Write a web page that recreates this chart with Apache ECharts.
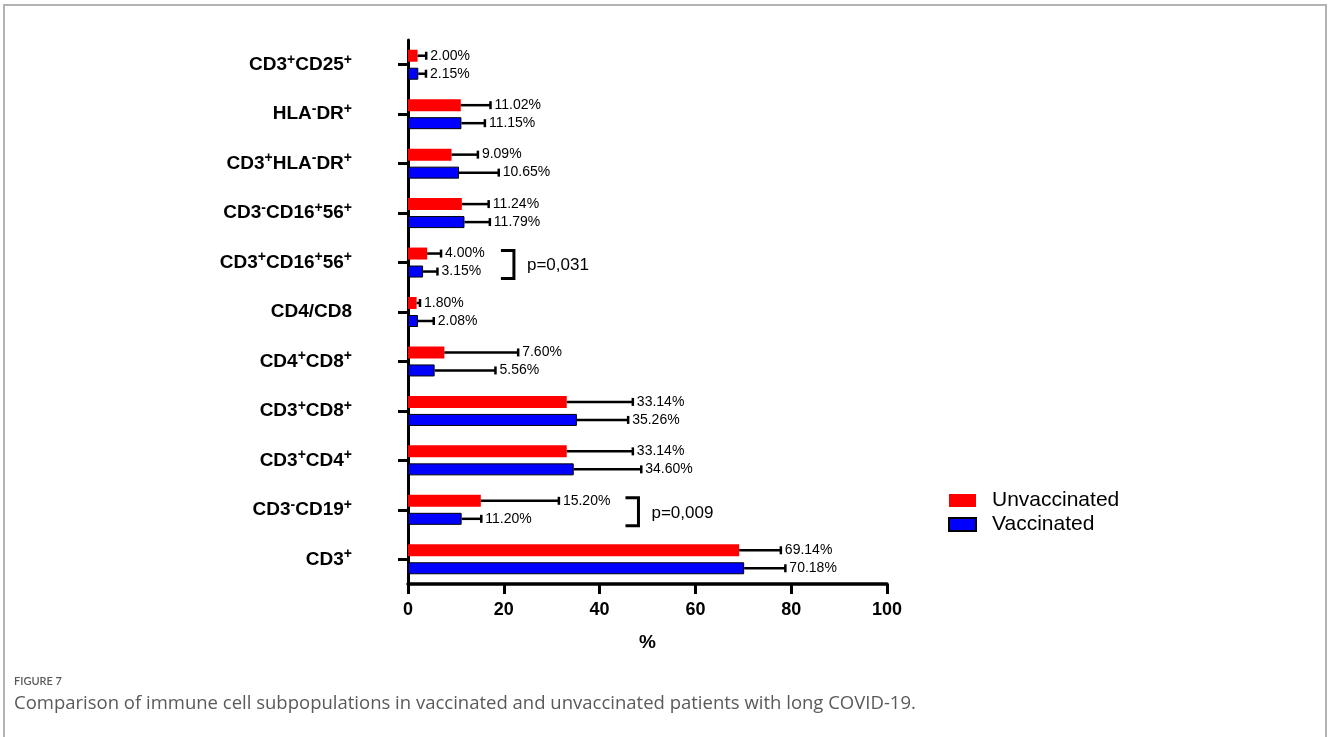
<!DOCTYPE html>
<html>
<head>
<meta charset="utf-8">
<script src="https://cdn.jsdelivr.net/npm/echarts@6/dist/echarts.min.js"></script>
<style>
html,body{margin:0;padding:0;background:#fff;}
#chart{width:1328px;height:737px;}
</style>
</head>
<body>
<div id="chart"></div>
<script>
const categories = ['CD3^+CD25^+','HLA^-DR^+','CD3^+HLA^-DR^+','CD3^-CD16^+56^+','CD3^+CD16^+56^+','CD4/CD8','CD4^+CD8^+','CD3^+CD8^+','CD3^+CD4^+','CD3^-CD19^+','CD3^+'];
const unvaccinated   = [2.00, 11.02, 9.09, 11.24, 4.00, 1.80, 7.60, 33.14, 33.14, 15.20, 69.14];
const unvaccinatedSD = [1.8, 6.2, 5.5, 5.6, 2.9, 0.7, 15.4, 13.8, 13.8, 16.3, 8.7];
const vaccinated     = [2.15, 11.15, 10.65, 11.79, 3.15, 2.08, 5.56, 35.26, 34.60, 11.20, 70.18];
const vaccinatedSD   = [1.6, 4.9, 8.3, 5.3, 3.0, 3.3, 12.7, 10.7, 14.1, 4.1, 8.6];
const xTicks = [0, 20, 40, 60, 80, 100];
const pCategories = ['CD3^+CD16^+56^+', 'CD3^-CD19^+'];
const pPositions = [19.4, 45.4];
const pTexts = ['p=0,031', 'p=0,009'];

const FONT = '"Liberation Sans", Arial, Helvetica, sans-serif';
const CAPFONT = '"Open Sans", "Noto Sans", sans-serif';

function catLabel(s) {
  return s.split(/(\^[+-])/).filter(Boolean).map(function (t) {
    return t[0] === '^' ? '{s|' + t[1] + '}' : '{m|' + t + '}';
  }).join('');
}

function errRender(offset) {
  return function (params, api) {
    const v = api.value(0), c = api.value(1), sd = api.value(2);
    const p0 = api.coord([v, c]);
    const p1 = api.coord([v + sd, c]);
    const y = p0[1] + offset;
    return {
      type: 'group',
      children: [
        {type: 'line', shape: {x1: p0[0], y1: y, x2: p1[0], y2: y}, style: {stroke: '#000', lineWidth: 2.5}},
        {type: 'line', shape: {x1: p1[0], y1: y - 4, x2: p1[0], y2: y + 4}, style: {stroke: '#000', lineWidth: 2.5}},
        {type: 'text', style: {text: v.toFixed(2) + '%', x: p1[0] + 4, y: y, align: 'left', verticalAlign: 'middle',
          fill: '#000', fontSize: 14, fontFamily: FONT}}
      ]
    };
  };
}

function bracketRender(params, api) {
  const c = api.value(1);
  const p = api.coord([api.value(0), c]);
  const x = p[0], y = p[1];
  const w = 13;
  return {
    type: 'group',
    children: [
      {type: 'polyline', shape: {points: [[x, y - 12], [x + w, y - 12], [x + w, y + 16], [x, y + 16]]},
        style: {stroke: '#000', lineWidth: 3, fill: null}},
      {type: 'text', style: {text: pTexts[params.dataIndex], x: x + w + 13, y: y + 3, align: 'left', verticalAlign: 'middle',
        fill: '#000', fontSize: 17, fontFamily: FONT}}
    ]
  };
}

const chart = echarts.init(document.getElementById('chart'), null, {renderer: 'canvas'});

const option = {
  backgroundColor: '#fff',
  animation: false,
  textStyle: {fontFamily: FONT},
  grid: {left: 408, top: 40, width: 479, height: 544, containLabel: false},
  legend: {
    data: ['Unvaccinated', 'Vaccinated'],
    orient: 'vertical',
    left: 948, top: 490,
    itemWidth: 27, itemHeight: 13, itemGap: 3,
    icon: 'rect',
    padding: 0,
    textStyle: {fontSize: 21, color: '#000', fontFamily: FONT, padding: [0, 0, 0, 11]}
  },
  xAxis: {
    type: 'value', min: 0, max: 100, interval: 20,
    name: '%', nameLocation: 'middle', nameGap: 49,
    nameTextStyle: {fontSize: 19, fontWeight: 'bold', color: '#000', fontFamily: FONT},
    axisLine: {show: true, lineStyle: {color: '#000', width: 3.5}},
    axisTick: {show: true, length: 10, lineStyle: {color: '#000', width: 3}},
    axisLabel: {fontSize: 18, fontWeight: 'bold', color: '#000', margin: 17, fontFamily: FONT,
      formatter: function (v) { return xTicks.indexOf(v) >= 0 ? String(v) : ''; }},
    splitLine: {show: false}
  },
  yAxis: {
    type: 'category', data: categories, inverse: true,
    axisLine: {show: true, lineStyle: {color: '#000', width: 3}},
    axisTick: {show: true, alignWithLabel: true, length: 10, lineStyle: {color: '#000', width: 3}},
    axisLabel: {
      margin: 56, color: '#000',
      formatter: catLabel,
      rich: {
        m: {fontSize: 19, fontWeight: 'bold', color: '#000', fontFamily: FONT, lineHeight: 24},
        s: {fontSize: 14, fontWeight: 'bold', color: '#000', fontFamily: FONT, verticalAlign: 'top', lineHeight: 14}
      }
    },
    splitLine: {show: false}
  },
  series: [
    {name: 'Unvaccinated', type: 'bar', data: unvaccinated, barWidth: 12, barGap: '50%',
      itemStyle: {color: '#ff0000'}, z: 2},
    {name: 'Vaccinated', type: 'bar', data: vaccinated, barWidth: 12, barGap: '50%',
      itemStyle: {color: '#0000ff', borderColor: '#000', borderWidth: 1}, z: 2},
    {name: 'errU', type: 'custom', renderItem: errRender(-9), clip: false, z: 5,
      encode: {x: 0, y: 1},
      data: unvaccinated.map(function (v, i) { return [v, i, unvaccinatedSD[i]]; })},
    {name: 'errV', type: 'custom', renderItem: errRender(9), clip: false, z: 5,
      encode: {x: 0, y: 1},
      data: vaccinated.map(function (v, i) { return [v, i, vaccinatedSD[i]]; })},
    {name: 'pvals', type: 'custom', renderItem: bracketRender, clip: false, z: 5,
      encode: {x: 0, y: 1},
      data: pCategories.map(function (c, i) { return [pPositions[i], categories.indexOf(c)]; })}
  ],
  graphic: [
    {type: 'rect', shape: {x: 4, y: 5, width: 1322, height: 800}, style: {stroke: '#b3b3b3', lineWidth: 2, fill: null}, silent: true},
    {type: 'text', left: 14, top: 676, style: {text: 'FIGURE 7', fontSize: 11, fontWeight: 600, fill: '#5a5a5a', fontFamily: '"Lato", ' + CAPFONT}},
    {type: 'text', left: 14, top: 694, style: {text: 'Comparison of immune cell subpopulations in vaccinated and unvaccinated patients with long COVID-19.', fontSize: 18.5, fill: '#5a5a5a', fontFamily: CAPFONT}}
  ]
};
chart.setOption(option);
</script>
</body>
</html>
